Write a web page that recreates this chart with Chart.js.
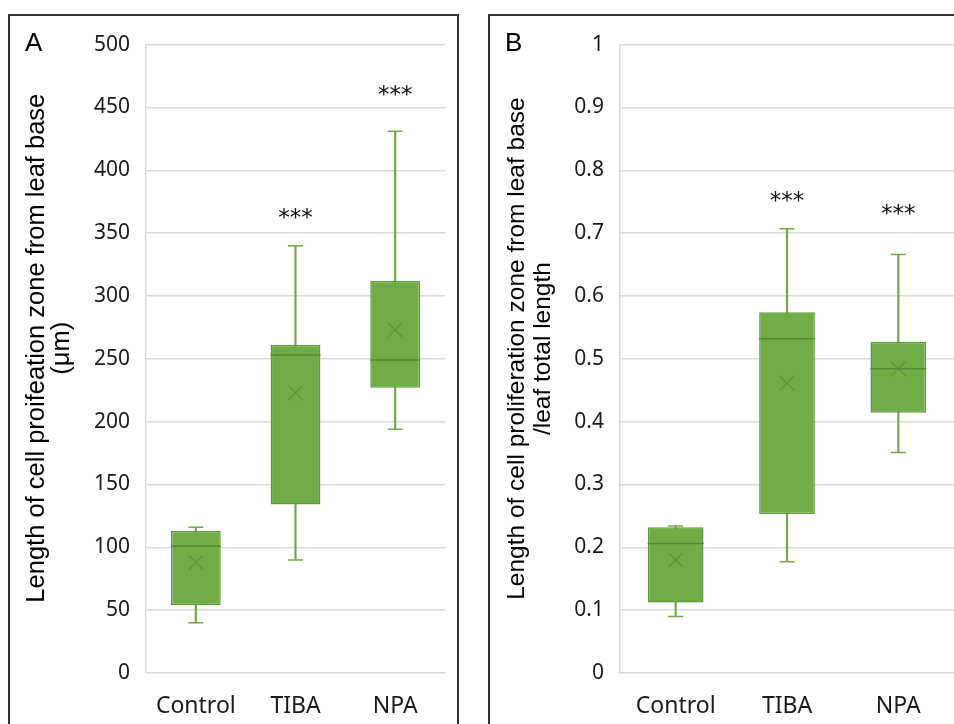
<!DOCTYPE html>
<html>
<head>
<meta charset="utf-8">
<script src="https://cdn.jsdelivr.net/npm/chart.js@4.4.1/dist/chart.umd.min.js"></script>
<style>
html, body { margin: 0; padding: 0; background: #fff; overflow: hidden; width: 954px; height: 724px; }
.panel { position: absolute; top: 14px; height: 760px; border: 2px solid #333; box-sizing: border-box; }
#panelA { left: 8px; width: 451px; }
#panelB { left: 488px; width: 520px; }
.tag { position: absolute; top: 11px; left: 15px; font: 26px "Liberation Sans", Arial, sans-serif; color: #000; }
canvas { position: absolute; left: 0; top: 0; }
</style>
</head>
<body>
<div class="panel" id="panelA">
  <canvas id="chartA" width="446" height="708"></canvas>
  <div class="tag">A</div>
</div>
<div class="panel" id="panelB">
  <canvas id="chartB" width="464" height="708"></canvas>
  <div class="tag">B</div>
</div>
<script>
const categories = ['Control', 'TIBA', 'NPA'];

// Panel A: length of proliferation zone (µm)
const lenMin = [40, 90, 194];
const lenQ1 = [54, 134, 227];
const lenMedian = [101, 253, 249];
const lenQ3 = [113, 261, 312];
const lenMax = [116, 340, 431];
const lenMean = [88, 223, 273];
const lenStars = [null, 361, 459];
const lenTicks = [0, 50, 100, 150, 200, 250, 300, 350, 400, 450, 500];

// Panel B: relative length (zone / leaf length)
const relMin = [0.09, 0.177, 0.351];
const relQ1 = [0.112, 0.253, 0.414];
const relMedian = [0.206, 0.532, 0.484];
const relQ3 = [0.232, 0.574, 0.527];
const relMax = [0.234, 0.707, 0.666];
const relMean = [0.18, 0.461, 0.484];
const relStars = [null, 0.75, 0.728];
const relTicks = [0, 0.1, 0.2, 0.3, 0.4, 0.5, 0.6, 0.7, 0.8, 0.9, 1];

const boxFill = '#70ad47';
const boxEdge = '#5f9a3c';
const whiskerColor = '#6fa84a';
const medianColor = '#558a34';
const meanColor = '#5a9539';

// Draws the significance stars above the boxes
const starPlugin = {
    id: 'stars',
    afterDatasetsDraw(chart, args, opts) {
        const { ctx, scales: { x, y } } = chart;
        ctx.save();
        ctx.font = '23px "DejaVu Sans"';
        ctx.fillStyle = '#111';
        ctx.textAlign = 'center';
        ctx.textBaseline = 'middle';
        opts.values.forEach((v, i) => {
            if (v == null) return;
            ctx.fillText('***', x.getPixelForValue(i), y.getPixelForValue(v));
        });
        ctx.restore();
    }
};

function mark(data, style, radius, color, width) {
    return {
        type: 'line',
        data: data,
        showLine: false,
        pointStyle: style,
        pointRadius: radius,
        pointBorderColor: color,
        pointBackgroundColor: color,
        pointBorderWidth: width,
        order: 1
    };
}

function boxDatasets(min, q1, med, q3, max, mean, halfWidth) {
    const zip = (a, b) => a.map((v, i) => [v, b[i]]);
    return [
        { type: 'bar', data: zip(min, max), backgroundColor: whiskerColor, barThickness: 1.5, grouped: false, order: 5 },
        { type: 'bar', data: zip(q1, q3), backgroundColor: boxFill, borderColor: boxEdge, borderWidth: 1.5,
          borderSkipped: false, barPercentage: 0.5, categoryPercentage: 1, grouped: false, order: 4 },
        mark(med, 'line', halfWidth, medianColor, 1.5),
        mark(min, 'line', 7.5, whiskerColor, 1.5),
        mark(max, 'line', 7.5, whiskerColor, 1.5),
        mark(mean, 'crossRot', 10, meanColor, 1.2)
    ];
}

// leading no-break spaces nudge the centred axis title up a little, as in the original
const lift = '\u00a0\u00a0\u00a0';

function makeChart(id, cfg) {
    new Chart(document.getElementById(id), {
        type: 'bar',
        data: { labels: categories, datasets: cfg.datasets },
        plugins: [starPlugin],
        options: {
            responsive: false,
            devicePixelRatio: 1,
            animation: false,
            events: [],
            layout: { autoPadding: false, padding: { top: 27, right: cfg.rightPad, left: 0, bottom: 0 } },
            plugins: {
                legend: { display: false },
                tooltip: { enabled: false },
                stars: { values: cfg.stars }
            },
            scales: {
                x: {
                    grid: { display: false },
                    border: { display: false },
                    ticks: { color: '#1a1a1a', padding: 12, font: { family: 'Noto Sans', size: 23 } },
                    afterFit: s => { s.height = 51; }
                },
                y: {
                    min: cfg.ticks[0],
                    max: cfg.ticks[cfg.ticks.length - 1],
                    afterBuildTicks: s => { s.ticks = cfg.ticks.map(v => ({ value: v })); },
                    grid: { color: '#d9d9d9', lineWidth: 1.5, drawTicks: false },
                    border: { display: true, color: '#d9d9d9', width: 1.5 },
                    ticks: { color: '#1a1a1a', padding: 16, font: { family: 'Noto Sans', size: 21 }, callback: v => String(v) },
                    title: {
                        display: true,
                        text: cfg.title.map(t => lift + t),
                        color: '#000',
                        font: { family: 'Liberation Sans', size: cfg.titleSize, lineHeight: cfg.titleLine },
                        padding: { top: cfg.titlePad, bottom: 0 }
                    },
                    afterFit: s => { s.width = cfg.axisWidth; }
                }
            }
        }
    });
}

makeChart('chartA', {
    datasets: boxDatasets(lenMin, lenQ1, lenMedian, lenQ3, lenMax, lenMean, 25),
    stars: lenStars,
    ticks: lenTicks,
    title: ['Length of cell proifeation zone from leaf base', '(\u03bcm)'],
    titleSize: 25.5,
    titleLine: 1.0,
    titlePad: 14,
    axisWidth: 136,
    rightPad: 11
});

makeChart('chartB', {
    datasets: boxDatasets(relMin, relQ1, relMedian, relQ3, relMax, relMean, 28),
    stars: relStars,
    ticks: relTicks,
    title: ['Length of cell proliferation zone from leaf base', '/leaf total length'],
    titleSize: 24.5,
    titleLine: 1.06,
    titlePad: 14,
    axisWidth: 130,
    rightPad: 0
});
</script>
</body>
</html>
